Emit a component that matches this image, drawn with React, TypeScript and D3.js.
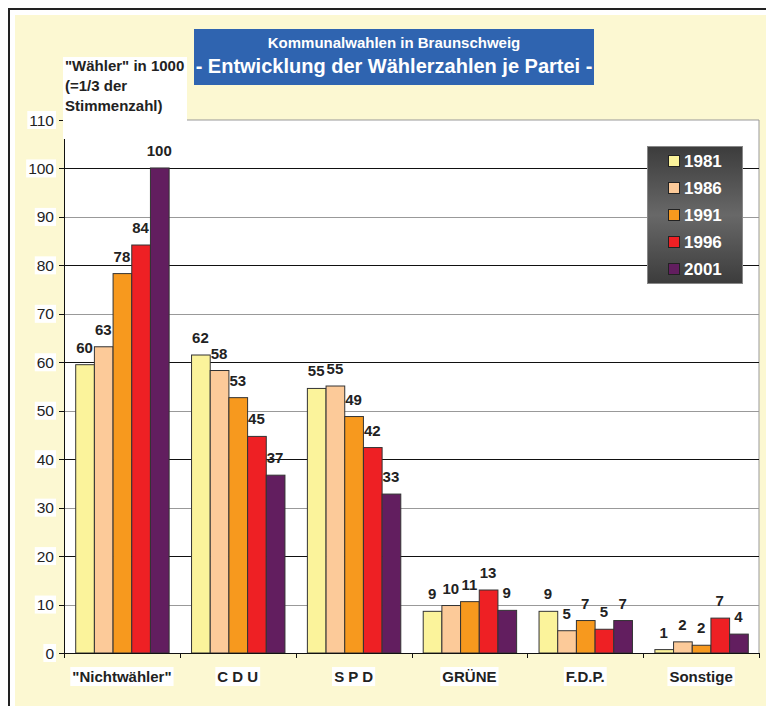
import * as d3 from "d3";

// Kommunalwahlen in Braunschweig, voters in 1000
const categories = ["\"Nichtwähler\"", "C D U", "S P D", "GRÜNE", "F.D.P.", "Sonstige"];
const years = ["1981", "1986", "1991", "1996", "2001"];
const colors = ["#FBF39B", "#FCCA99", "#F7991E", "#EE2024", "#621E5F"];

const v1981 = [59.5, 61.5, 54.6, 8.6, 8.6, 0.7];
const v1986 = [63.2, 58.3, 55.1, 9.8, 4.6, 2.3];
const v1991 = [78.3, 52.7, 48.8, 10.6, 6.7, 1.6];
const v1996 = [84.2, 44.7, 42.4, 13.0, 4.9, 7.2];
const v2001 = [100.1, 36.7, 32.8, 8.8, 6.7, 3.9];
const series = [v1981, v1986, v1991, v1996, v2001];

const yTicks = [0, 10, 20, 30, 40, 50, 60, 70, 80, 90, 100, 110];
const yLabelLines = ["\"Wähler\" in 1000", "(=1/3 der", "Stimmenzahl)"];
const title1 = "Kommunalwahlen in Braunschweig";
const title2 = "- Entwicklung der Wählerzahlen je Partei -";

const FONT = "Liberation Sans, Arial, sans-serif";

let ctx: CanvasRenderingContext2D | null = null;
const measure = (text: string, font: string) => {
  if (!ctx) ctx = document.createElement("canvas").getContext("2d");
  if (!ctx) return text.length * 8;
  ctx.font = font;
  return ctx.measureText(text).width;
};

export default function App() {
  const W = 766;
  const H = 706;
  const left = 64;
  const right = 759;
  const top = 120;
  const bottom = 653;

  const x = d3.scaleBand<string>().domain(categories).range([left, right]);
  const inner = d3.scaleBand<string>().domain(years).range([0, x.bandwidth()]).paddingOuter(0.6);
  const y = d3.scaleLinear().domain([0, 110]).range([bottom, top]);

  const bw = inner.bandwidth();

  return (
    <svg width={W} height={H} style={{ position: "absolute", left: 0, top: 0 }} fontFamily={FONT}>
      <defs>
        <linearGradient id="legendGrad" x1="0" y1="0" x2="0" y2="1">
          <stop offset="0%" stopColor="#3c3c3c" />
          <stop offset="50%" stopColor="#686868" />
          <stop offset="100%" stopColor="#3c3c3c" />
        </linearGradient>
      </defs>

      {/* frame */}
      <rect x={0} y={0} width={W} height={H} fill="#fff" />
      <rect x={8} y={8} width={W - 8} height={H - 8} fill="#222" />
      <rect x={10} y={10} width={W - 10} height={H - 10} fill="#fff" />
      <rect x={15} y={15} width={W - 15} height={H - 15} fill="#FCF8D2" />

      {/* plot area */}
      <rect x={left} y={top} width={right - left} height={bottom - top} fill="#fff" />
      <line x1={left} x2={right} y1={top} y2={top} stroke="#999" />
      <line x1={right} x2={right} y1={top} y2={bottom} stroke="#999" />

      {/* grid */}
      {yTicks.filter(t => t > 0 && t < 110).map(t => (
        <line key={t} x1={left} x2={right} y1={Math.round(y(t)) + 0.5} y2={Math.round(y(t)) + 0.5}
          stroke={t % 20 === 0 ? "#111" : "#999"} strokeWidth={1} />
      ))}

      {/* bars */}
      {categories.map((c, i) => (
        <g key={c} transform={`translate(${x(c)},0)`}>
          {years.map((yr, j) => {
            const v = series[j][i];
            return (
              <rect key={yr} x={inner(yr)! + 0.5} y={y(v)} width={bw} height={bottom - y(v)}
                fill={colors[j]} stroke="#333" strokeWidth={1} />
            );
          })}
        </g>
      ))}

      {/* value labels */}
      {categories.map((c, i) => (
        <g key={c} transform={`translate(${x(c)},0)`}>
          {years.map((yr, j) => {
            const v = series[j][i];
            return (
              <text key={yr} x={inner(yr)! + bw / 2} y={y(v) - 12} textAnchor="middle"
                fontSize={15} fontWeight="bold" fill="#222">{Math.round(v)}</text>
            );
          })}
        </g>
      ))}

      {/* axes */}
      <line x1={left + 0.5} x2={left + 0.5} y1={top} y2={bottom} stroke="#111" />
      <line x1={left} x2={right} y1={bottom + 0.5} y2={bottom + 0.5} stroke="#111" />
      {yTicks.map(t => (
        <line key={t} x1={left - 5} x2={left} y1={Math.round(y(t)) + 0.5} y2={Math.round(y(t)) + 0.5} stroke="#111" />
      ))}
      {[...categories.map(c => x(c)!), right].map((px, i) => (
        <line key={i} x1={Math.round(px) + 0.5} x2={Math.round(px) + 0.5} y1={bottom} y2={bottom + 5} stroke="#111" />
      ))}

      {/* y tick labels */}
      {yTicks.map(t => {
        const w = measure(String(t), `15.5px ${FONT}`);
        return (
          <g key={t}>
            <rect x={54 - w - 2} y={y(t) - 9} width={w + 4} height={18} fill="#fff" />
            <text x={54} y={y(t) + 5.5} textAnchor="end" fontSize={15.5} fill="#222">{t}</text>
          </g>
        );
      })}

      {/* category labels */}
      {categories.map(c => {
        const w = measure(c, `bold 15px ${FONT}`);
        const cx = x(c)! + x.bandwidth() / 2;
        return (
          <g key={c}>
            <rect x={cx - w / 2 - 2} y={667} width={w + 4} height={19} fill="#fff" />
            <text x={cx} y={682} textAnchor="middle" fontSize={15} fontWeight="bold" fill="#222">{c}</text>
          </g>
        );
      })}

      {/* y label box */}
      <rect x={63} y={57} width={124} height={82} fill="#fff" />
      {yLabelLines.map((l, i) => (
        <text key={i} x={65} y={71 + i * 20} fontSize={15} fontWeight="bold" fill="#222">{l}</text>
      ))}

      {/* title */}
      <rect x={194} y={29} width={400} height={56} fill="#2F64B0" />
      <text x={394} y={48} textAnchor="middle" fontSize={15} fontWeight="bold" fill="#fff">{title1}</text>
      <text x={394} y={73} textAnchor="middle" fontSize={20} fontWeight="bold" fill="#fff">{title2}</text>

      {/* legend */}
      <rect x={647.5} y={146.5} width={95} height={137} fill="url(#legendGrad)" stroke="#888" />
      {years.map((yr, j) => (
        <g key={yr} transform={`translate(0,${161 + j * 27})`}>
          <rect x={668.5} y={-5.5} width={11} height={11} fill={colors[j]} stroke="#222" />
          <text x={684} y={6} fontSize={17} fontWeight="bold" fill="#fff">{yr}</text>
        </g>
      ))}
    </svg>
  );
}
